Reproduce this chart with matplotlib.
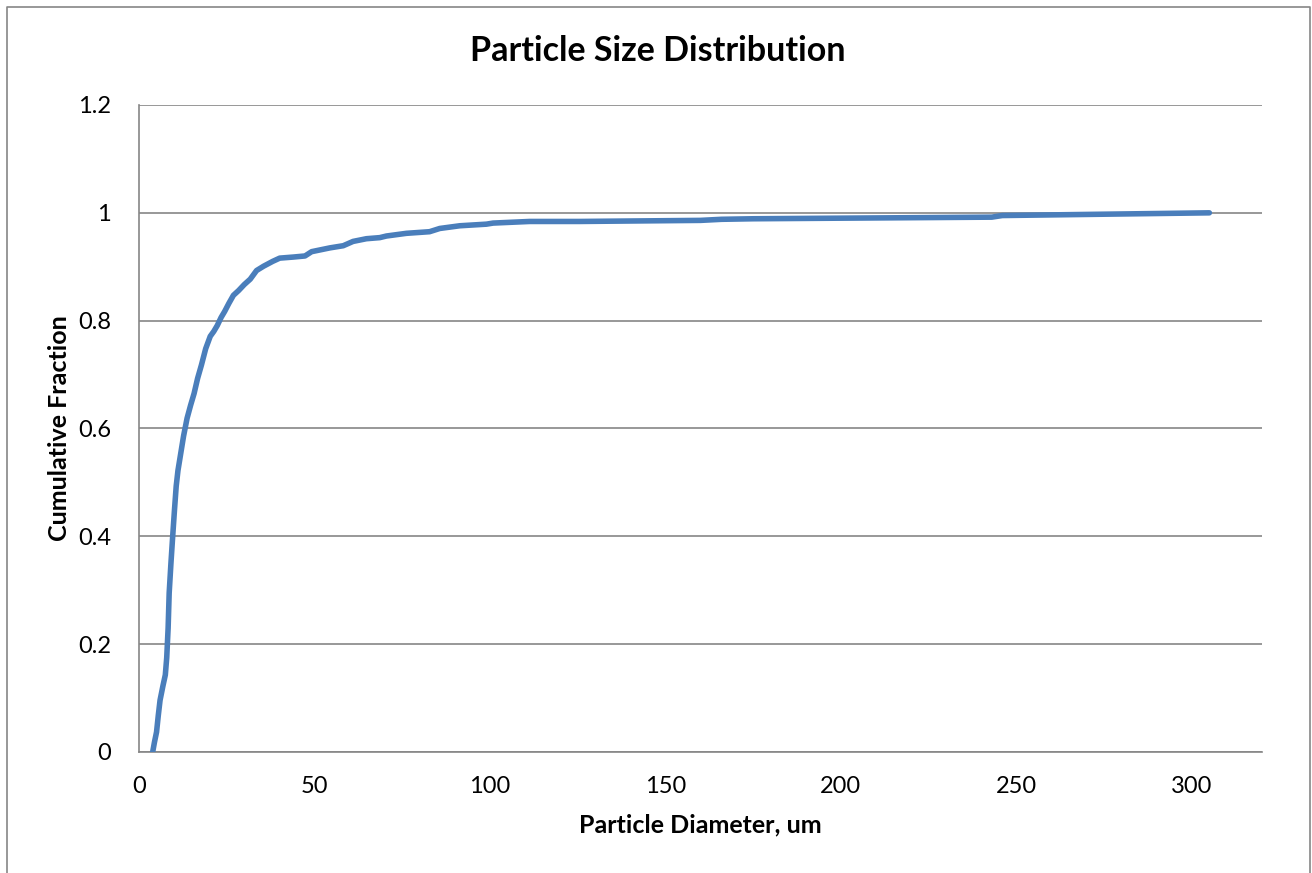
import matplotlib
matplotlib.use("Agg")
import matplotlib.pyplot as plt
from matplotlib.lines import Line2D

diameter = [3.9, 4.4, 5.0, 5.5, 6.0, 6.8, 7.5, 7.9, 8.3, 8.6, 9.1, 9.6, 10.1, 10.6,
            11.1, 11.7, 12.7, 13.7, 14.7, 15.7, 16.7, 17.8, 19.0, 20.3, 21.3, 22.3,
            23.4, 24.4, 25.6, 26.9, 28.4, 30.0, 31.7, 33.5, 35.5, 38.1, 40.1, 44.0,
            47.3, 49.2, 54.4, 58.2, 61.0, 64.8, 68.6, 70.5, 76.2, 82.8, 85.7, 91.4,
            99.0, 100.9, 111.3, 125.5, 160.0, 166.0, 175.0, 243.0, 246.0, 305.0]
fraction = [0.0, 0.018, 0.037, 0.068, 0.096, 0.122, 0.143, 0.175, 0.230, 0.295,
            0.350, 0.400, 0.448, 0.493, 0.522, 0.546, 0.586, 0.619, 0.643, 0.665,
            0.693, 0.718, 0.748, 0.771, 0.780, 0.791, 0.806, 0.817, 0.832, 0.847,
            0.856, 0.867, 0.877, 0.893, 0.901, 0.910, 0.916, 0.918, 0.920, 0.928,
            0.935, 0.939, 0.947, 0.952, 0.954, 0.957, 0.962, 0.965, 0.971, 0.976,
            0.979, 0.981, 0.984, 0.984, 0.986, 0.988, 0.989, 0.992, 0.995, 1.0]
x_ticks = [0, 50, 100, 150, 200, 250, 300]
y_ticks = [0, 0.2, 0.4, 0.6, 0.8, 1.0, 1.2]
y_tick_labels = ["0", "0.2", "0.4", "0.6", "0.8", "1", "1.2"]

W, H = 1312, 873
plt.rcParams['font.family'] = ['Lato', 'DejaVu Sans']
fig = plt.figure(figsize=(W / 100, H / 100), dpi=100)
ax = fig.add_axes([139 / W, 1 - 752 / H, (1262 - 139) / W, (752 - 105) / H])

grid_c = "#868686"
ax.plot(diameter, fraction, color="#4a7ebb", lw=4.0, solid_capstyle="round",
        solid_joinstyle="round", zorder=3)
ax.set_xlim(0, 320)
ax.set_ylim(0, 1.2)
ax.set_xticks(x_ticks)
ax.set_xticklabels([str(t) for t in x_ticks])
ax.set_yticks(y_ticks)
ax.set_yticklabels(y_tick_labels)
ax.yaxis.grid(True, color=grid_c, lw=1.2)
ax.set_axisbelow(True)
for s in ["top", "right"]:
    ax.spines[s].set_visible(False)
for s in ["left", "bottom"]:
    ax.spines[s].set_color(grid_c)
    ax.spines[s].set_linewidth(1.2)
ax.tick_params(length=0, labelsize=17, colors="black")
ax.tick_params(axis="x", pad=17)
ax.tick_params(axis="y", pad=20)

ax.set_xlabel("Particle Diameter, um", fontsize=18, fontweight="bold", labelpad=12)
ax.set_ylabel("Cumulative Fraction", fontsize=18, fontweight="bold", labelpad=5)
fig.text(658 / W, 1 - 51 / H, "Particle Size Distribution", fontsize=24.5,
         fontweight="bold", ha="center", va="center")

# outer chart border
fig.add_artist(Line2D([7 / W, 7 / W, 1310 / W, 1310 / W],
                      [0, 1 - 7 / H, 1 - 7 / H, 0], color=grid_c, lw=1.2,
                      transform=fig.transFigure))

fig.savefig("out.png", dpi=100)
